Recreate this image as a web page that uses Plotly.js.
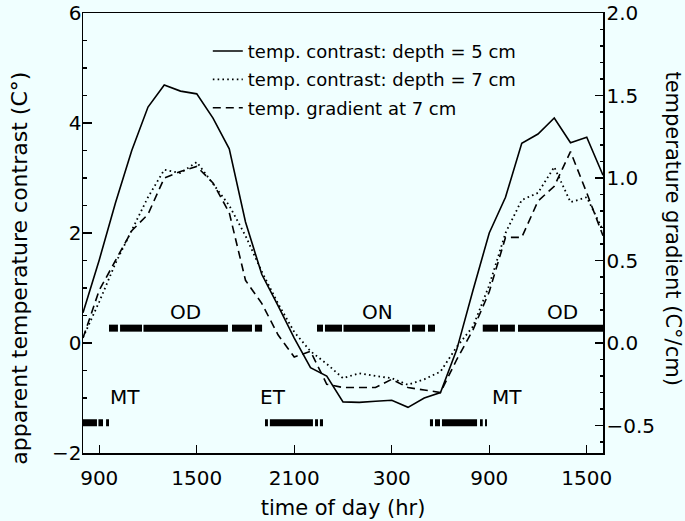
<!DOCTYPE html>
<html>
<head>
<meta charset="utf-8">
<script src="https://cdn.plot.ly/plotly-3.0.1.min.js"></script>
<style>html,body{margin:0;padding:0;background:#f0ffff;}#chart{width:685px;height:521px;}</style>
</head>
<body>
<div id="chart"></div>
<script>
// hours counted from midnight of the first day (8 = 08:00, 27 = 03:00 next day)
const hours = [8,9,10,11,12,13,14,15,16,17,18,19,20,21,22,23,24,25,26,27,28,29,30,31,32,33,34,35,36,37,38,39,40];
const contrast5cm = [0.55,1.51,2.55,3.5,4.29,4.69,4.58,4.53,4.09,3.53,2.2,1.25,0.68,0.09,-0.45,-0.6,-1.07,-1.08,-1.06,-1.04,-1.17,-1.0,-0.9,-0.12,0.96,2.0,2.65,3.63,3.8,4.09,3.64,3.74,3.05];
const contrast7cm = [0.1,0.75,1.45,2.05,2.65,3.15,3.09,3.29,2.9,2.5,1.95,1.3,0.72,0.2,-0.15,-0.38,-0.64,-0.55,-0.6,-0.64,-0.76,-0.66,-0.52,-0.07,0.3,1.05,2.0,2.6,2.73,3.2,2.56,2.65,2.05];
const gradient7cm = [0.03,0.32,0.5,0.68,0.78,1.0,1.04,1.07,0.97,0.79,0.38,0.24,0.05,-0.085,-0.05,-0.25,-0.27,-0.27,-0.27,-0.22,-0.27,-0.285,-0.3,-0.1,0.08,0.31,0.64,0.64,0.86,0.95,1.16,0.91,0.65];

const tickHours = [9,15,21,27,33,39];
const tickLabels = ['900','1500','2100','300','900','1500'];

const seriesNames = ['temp. contrast: depth = 5 cm','temp. contrast: depth = 7 cm','temp. gradient at 7 cm'];

// period bars: [start hour, end hour] pieces
const odPeriod1 = [[9.6,10.15],[10.28,11.63],[11.72,16.92],[17.17,18.4],[18.58,19.02]];
const onPeriod  = [[22.4,22.77],[22.89,23.94],[24.03,28.12],[28.25,29.05],[29.23,29.66]];
const odPeriod2 = [[32.6,33.54],[33.66,34.58],[34.77,40]];
const mtPeriod1 = [[8.0,8.86],[8.95,9.23],[9.42,9.6]];
const etPeriod  = [[19.2,19.38],[19.5,22.15],[22.28,22.46],[22.58,22.77]];
const mtPeriod2 = [[29.35,29.54],[29.66,29.97],[30.09,32.25],[32.43,32.6],[32.74,32.86]];
const upperBarLevel = 0.27;
const lowerBarLevel = -1.45;

const periodLabels = ['OD','ON','OD','MT','ET','MT'];
const periodLabelHours = [14.3,26.1,37.5,10.6,19.7,34.1];
const periodLabelValues = [0.56,0.56,0.56,-0.98,-0.98,-0.98];

function barTrace(pieces, level){
  const x = [], y = [];
  pieces.forEach(p => { x.push(p[0], p[1], null); y.push(level, level, null); });
  return {x, y, type:'scatter', mode:'lines', line:{color:'#000', width:7}, showlegend:false, hoverinfo:'skip'};
}

const FONT = 'DejaVu Sans, sans-serif';

const traces = [
  {x:hours, y:contrast5cm, name:seriesNames[0], legendgroup:'a', type:'scatter', mode:'lines', line:{color:'#000', width:1.6}},
  {x:hours, y:contrast7cm, name:seriesNames[1], legendgroup:'b', type:'scatter', mode:'lines', line:{color:'#000', width:1.8, dash:'1.6px,3.2px'}},
  {x:hours, y:gradient7cm, name:seriesNames[2], legendgroup:'c', type:'scatter', mode:'lines', yaxis:'y2', line:{color:'#000', width:1.6, dash:'8px,5px'}},
  barTrace(odPeriod1, upperBarLevel),
  barTrace(onPeriod, upperBarLevel),
  barTrace(odPeriod2, upperBarLevel),
  barTrace(mtPeriod1, lowerBarLevel),
  barTrace(etPeriod, lowerBarLevel),
  barTrace(mtPeriod2, lowerBarLevel)
];

const annotations = periodLabels.map((t,i) => ({
  x: periodLabelHours[i], y: periodLabelValues[i], xref:'x', yref:'y',
  text: t, showarrow:false, font:{family:FONT, size:20, color:'#000'}, xanchor:'center', yanchor:'middle'
}));
annotations.push({
  x: 1.135, y: 0.51, xref:'paper', yref:'paper', text:'temperature gradient (C°/cm)',
  textangle:90, showarrow:false, font:{family:FONT, size:21, color:'#000'}, xanchor:'center', yanchor:'middle'
});
annotations.push({
  x: -0.122, y: 0.42, xref:'paper', yref:'paper', text:'apparent temperature contrast (C°)',
  textangle:-90, showarrow:false, font:{family:FONT, size:22, color:'#000'}, xanchor:'center', yanchor:'middle'
});

const layout = {
  width:685, height:521,
  margin:{l:83, r:82, t:13, b:68},
  paper_bgcolor:'#f0ffff', plot_bgcolor:'#f0ffff',
  font:{family:FONT, color:'#000'},
  showlegend:true,
  legend:{x:0.24, y:0.955, xanchor:'left', yanchor:'top', bgcolor:'rgba(0,0,0,0)', font:{family:FONT, size:18}, tracegroupgap:2, itemwidth:30},
  xaxis:{range:[8,40], tickvals:tickHours, ticktext:tickLabels, ticks:'inside', ticklen:8, tickwidth:1.3, tickcolor:'#000',
    showline:true, linewidth:1.5, linecolor:'#000', mirror:true, showgrid:false, zeroline:false,
    tickfont:{family:FONT, size:20}, ticklabelstandoff:6,
    title:{text:'time of day (hr)', font:{family:FONT, size:21}, standoff:12}},
  yaxis:{range:[-2,6], tickvals:[-2,0,2,4,6], ticks:'inside', ticklen:9, tickwidth:1.3, tickcolor:'#000',
    minor:{dtick:0.5, ticks:'inside', ticklen:4, tickcolor:'#000', showgrid:false},
    showline:true, linewidth:1.5, linecolor:'#000', showgrid:false, zeroline:false,
    tickfont:{family:FONT, size:20}, ticklabelstandoff:-4},
  yaxis2:{overlaying:'y', side:'right', range:[-2/3,2], tickvals:[-0.5,0,0.5,1,1.5,2], tickformat:'.1f',
    ticks:'inside', ticklen:8, tickwidth:1.3, tickcolor:'#000',
    minor:{dtick:0.1, ticks:'inside', ticklen:3, tickcolor:'#000', showgrid:false},
    showline:true, linewidth:1.5, linecolor:'#000', showgrid:false, zeroline:false,
    tickfont:{family:FONT, size:20}, ticklabelstandoff:-2},
  annotations:annotations
};

Plotly.newPlot('chart', traces, layout, {displayModeBar:false, staticPlot:true});
</script>
</body>
</html>
